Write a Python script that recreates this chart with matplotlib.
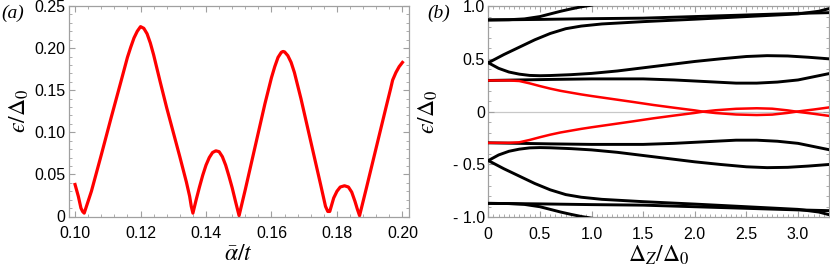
import matplotlib
matplotlib.use("Agg")
import matplotlib.pyplot as plt
from matplotlib.ticker import MultipleLocator

plt.rcParams['font.family'] = ['Liberation Sans', 'DejaVu Sans']
plt.rcParams['mathtext.fontset'] = 'stix'

# ---------------- panel (a) data ----------------
alpha_t = [0.1000, 0.1010, 0.1018, 0.1023, 0.1028,
           0.1050, 0.1080, 0.1110, 0.1140, 0.1160, 0.1170, 0.1180, 0.1190, 0.1200,
           0.1210, 0.1220, 0.1230, 0.1240, 0.1250, 0.1260, 0.1280, 0.1300, 0.1320,
           0.1340, 0.1350, 0.1355, 0.1360,
           0.1370, 0.1380, 0.1390, 0.1400, 0.1410, 0.1420, 0.1430, 0.1440, 0.1450,
           0.1460, 0.1470, 0.1480, 0.1490, 0.1501,
           0.1520, 0.1540, 0.1560, 0.1580, 0.1600, 0.1610, 0.1620, 0.1630, 0.1635,
           0.1640, 0.1650, 0.1660, 0.1670, 0.1690, 0.1710, 0.1730, 0.1750, 0.1765,
           0.1772, 0.1778,
           0.1790, 0.1800, 0.1810, 0.1823, 0.1835, 0.1845, 0.1855, 0.1862, 0.1869,
           0.1890, 0.1910, 0.1930, 0.1950, 0.1964, 0.1970, 0.1980, 0.1990, 0.2000]
eps_a = [0.0380, 0.0240, 0.0100, 0.0060, 0.0040,
         0.0300, 0.0730, 0.1170, 0.1600, 0.1890, 0.2010, 0.2120, 0.2200, 0.2255,
         0.2235, 0.2170, 0.2060, 0.1920, 0.1760, 0.1600, 0.1290, 0.1000, 0.0710,
         0.0410, 0.0240, 0.0120, 0.0040,
         0.0200, 0.0350, 0.0490, 0.0610, 0.0700, 0.0760, 0.0780, 0.0770, 0.0710,
         0.0610, 0.0480, 0.0340, 0.0180, 0.0010,
         0.0320, 0.0660, 0.1000, 0.1340, 0.1650, 0.1780, 0.1890, 0.1950, 0.1960,
         0.1955, 0.1910, 0.1830, 0.1710, 0.1400, 0.1060, 0.0720, 0.0380, 0.0120,
         0.0060, 0.0060,
         0.0220, 0.0300, 0.0350, 0.0365, 0.0350, 0.0290, 0.0180, 0.0090, 0.0010,
         0.0340, 0.0660, 0.0980, 0.1300, 0.1520, 0.1620, 0.1710, 0.1780, 0.1830]

# ---------------- panel (b) data ----------------
# black levels (positive side)
xA = [0.0, 0.2, 0.35, 0.5, 0.6, 0.7, 0.8, 0.9, 1.0]
yA = [0.868, 0.870, 0.878, 0.900, 0.925, 0.950, 0.972, 0.992, 1.008]
xB = [0.0, 0.5, 1.0, 1.5, 2.0, 2.5, 3.0, 3.3]
yB = [0.868, 0.873, 0.880, 0.885, 0.900, 0.915, 0.930, 0.937]
xC = [0.0, 0.15, 0.3, 0.45, 0.6, 0.75, 0.9, 1.1, 1.5, 2.0, 2.5, 2.8, 3.0, 3.2, 3.3]
yC = [0.463, 0.540, 0.610, 0.680, 0.740, 0.785, 0.810, 0.830, 0.852, 0.875, 0.900,
      0.915, 0.925, 0.950, 0.975]
xD = [0.0, 0.1, 0.2, 0.3, 0.4, 0.5, 0.6, 0.8, 1.0, 1.25, 1.5, 1.75, 2.0, 2.25, 2.5,
      2.7, 2.9, 3.1, 3.3]
yD = [0.463, 0.410, 0.375, 0.355, 0.343, 0.340, 0.342, 0.350, 0.362, 0.385, 0.415,
      0.445, 0.475, 0.500, 0.522, 0.530, 0.527, 0.515, 0.500]
xE = [0.0, 0.3, 0.6, 1.0, 1.5, 1.8, 2.1, 2.4, 2.6, 2.8, 3.0, 3.15, 3.3]
yE = [0.295, 0.300, 0.305, 0.310, 0.310, 0.300, 0.285, 0.270, 0.270, 0.280, 0.300,
      0.330, 0.360]
# black levels (negative side)
yA_neg = [-0.868, -0.870, -0.878, -0.900, -0.925, -0.950, -0.972, -0.992, -1.008]
yB_neg = [-0.868, -0.873, -0.880, -0.885, -0.900, -0.915, -0.930, -0.937]
yC_neg = [-0.463, -0.540, -0.610, -0.680, -0.740, -0.785, -0.810, -0.830, -0.852,
          -0.875, -0.900, -0.915, -0.925, -0.950, -0.975]
yD_neg = [-0.463, -0.410, -0.375, -0.355, -0.343, -0.340, -0.342, -0.350, -0.362,
          -0.385, -0.415, -0.445, -0.475, -0.500, -0.522, -0.530, -0.527, -0.515,
          -0.500]
yE_neg = [-0.295, -0.300, -0.305, -0.310, -0.310, -0.300, -0.285, -0.270, -0.270,
          -0.280, -0.300, -0.330, -0.360]
# red (lowest) levels
xR = [0.0, 0.2, 0.3, 0.4, 0.5, 0.6, 0.7, 0.8, 0.9, 1.0, 1.2, 1.4, 1.6, 1.8, 2.0,
      2.08, 2.2, 2.4, 2.6, 2.75, 2.9, 3.0, 3.15, 3.3]
yR1 = [0.295, 0.295, 0.290, 0.268, 0.242, 0.218, 0.197, 0.180, 0.163, 0.148, 0.120,
       0.092, 0.063, 0.037, 0.012, 0.000, -0.013, -0.027, -0.032, -0.028, -0.012,
       0.002, 0.020, 0.040]
yR2 = [-0.295, -0.295, -0.290, -0.268, -0.242, -0.218, -0.197, -0.180, -0.163,
       -0.148, -0.120, -0.092, -0.063, -0.037, -0.012, 0.000, 0.013, 0.027, 0.032,
       0.028, 0.012, -0.002, -0.020, -0.040]

yticks_a = [0, 0.05, 0.10, 0.15, 0.20, 0.25]
yticklabels_a = ['0', '0.05', '0.10', '0.15', '0.20', '0.25']
xticks_a = [0.10, 0.12, 0.14, 0.16, 0.18, 0.20]
xticklabels_a = ['0.10', '0.12', '0.14', '0.16', '0.18', '0.20']
yticks_b = [-1.0, -0.5, 0, 0.5, 1.0]
yticklabels_b = ['- 1.0', '- 0.5', '0', '0.5', '1.0']
xticks_b = [0, 0.5, 1.0, 1.5, 2.0, 2.5, 3.0]
xticklabels_b = ['0', '0.5', '1.0', '1.5', '2.0', '2.5', '3.0']

W, H = 830, 271
fig = plt.figure(figsize=(W / 100, H / 100), dpi=100)

frame_col = '#a0a0a0'
eps_label = '$\u03f5/\\Delta_0$'


def style(ax):
    for s in ax.spines.values():
        s.set_color(frame_col)
        s.set_linewidth(0.9)
    ax.tick_params(which='both', direction='in', top=True, right=True,
                   color=frame_col, labelsize=11.5, labelcolor='black')
    ax.tick_params(which='major', length=4.5, width=0.8)
    ax.tick_params(which='minor', length=2.5, width=0.6)
    ax.tick_params(axis='x', pad=7)
    ax.tick_params(axis='y', pad=2.5)


# panel (a)
axa = fig.add_axes([68.5 / W, 1 - 216.5 / H, 340.5 / W, 210.5 / H])
axa.plot(alpha_t, eps_a, color='#ff0000', lw=2.3, solid_joinstyle='round')
axa.set_xlim(0.098, 0.202)
axa.set_ylim(0, 0.25)
axa.set_xticks(xticks_a)
axa.set_xticklabels(xticklabels_a)
axa.set_yticks(yticks_a)
axa.set_yticklabels(yticklabels_a)
axa.xaxis.set_minor_locator(MultipleLocator(0.004))
axa.yaxis.set_minor_locator(MultipleLocator(0.01))
style(axa)
axa.set_xlabel(r'$\bar{\alpha}/t$', fontsize=17, labelpad=1)
axa.set_ylabel(eps_label, fontsize=17, labelpad=2)
fig.text(1 / W, 1 - 13 / H, '(a)', fontsize=14, family='Liberation Serif',
         style='italic', va='center', ha='left')

# panel (b)
axb = fig.add_axes([488.3 / W, 1 - 217.3 / H, 340.7 / W, 211.3 / H])
axb.axhline(0, color='#c8c8c8', lw=0.9, zorder=1)
for xs, ys in [(xA, yA), (xB, yB), (xC, yC), (xD, yD), (xE, yE),
               (xA, yA_neg), (xB, yB_neg), (xC, yC_neg), (xD, yD_neg), (xE, yE_neg)]:
    axb.plot(xs, ys, color='black', lw=2.1, zorder=3)
axb.plot(xR, yR1, color='#ff0000', lw=1.8, zorder=4)
axb.plot(xR, yR2, color='#ff0000', lw=1.8, zorder=4)
axb.set_xlim(0, 3.3)
axb.set_ylim(-1, 1)
axb.set_xticks(xticks_b)
axb.set_xticklabels(xticklabels_b)
axb.set_yticks(yticks_b)
axb.set_yticklabels(yticklabels_b)
axb.xaxis.set_minor_locator(MultipleLocator(0.05))
axb.yaxis.set_minor_locator(MultipleLocator(0.1))
style(axb)
axb.set_xlabel(r'$\Delta_Z/\Delta_0$', fontsize=17, labelpad=1)
axb.set_ylabel(eps_label, fontsize=17, labelpad=9)
fig.text(427 / W, 1 - 13 / H, '(b)', fontsize=14, family='Liberation Serif',
         style='italic', va='center', ha='left')

fig.savefig('out.png', dpi=100)
